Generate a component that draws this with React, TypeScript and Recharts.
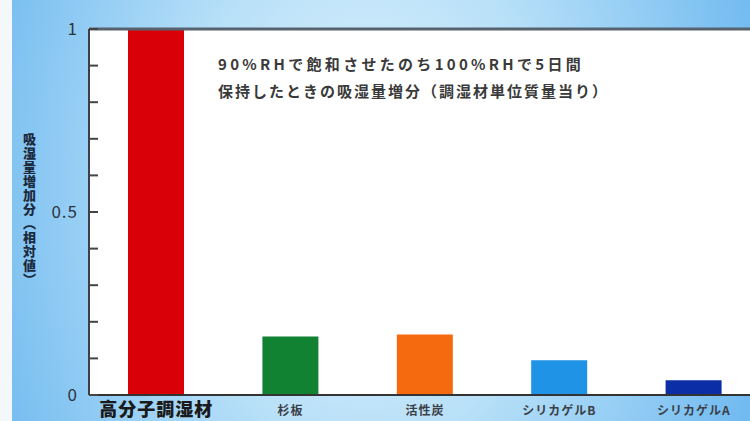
import { BarChart, Bar, XAxis, YAxis, CartesianGrid, ReferenceLine, Cell } from 'recharts';

const categories = ['高分子調湿材', '杉板', '活性炭', 'シリカゲルB', 'シリカゲルA'];
const values = [1.0, 0.16, 0.165, 0.095, 0.04];
const barColors = ['#d90008', '#118232', '#f5690f', '#1f93e6', '#0b2ea6'];
const yTicks = [0, 0.1, 0.2, 0.3, 0.4, 0.5, 0.6, 0.7, 0.8, 0.9, 1];
const yTickLabels: Record<string, string> = { '0': '0', '0.5': '0.5', '1': '1' };
const noteLines = ['90%RHで飽和させたのち100%RHで5日間', '保持したときの吸湿量増分（調湿材単位質量当り）'];
const yAxisTitle = '吸湿量増加分（相対値）';

const data = categories.map((name, i) => ({ name, value: values[i] }));

const FONT = '"Noto Sans CJK JP", "Noto Sans", sans-serif';

function YTick(props: any) {
  const { x, y, payload } = props;
  const label = yTickLabels[String(payload.value)];
  return (
    <g>
      <line x1={x} x2={x + 9} y1={y} y2={y} stroke="#444" strokeWidth={2} />
      {label && (
        <text x={x - 11} y={y} dy={6} textAnchor="end" fontSize={17} fill="#2c3440" fontFamily={FONT} letterSpacing={1}>
          {label}
        </text>
      )}
    </g>
  );
}

function XTick(props: any) {
  const { x, y, payload, index } = props;
  const main = index === 0;
  return (
    <text
      x={x}
      y={y}
      dy={main ? 21 : 20}
      textAnchor="middle"
      fontSize={main ? 18 : 12}
      fontWeight={main ? 900 : 700}
      fill={main ? '#1a1a1a' : '#3a3f48'}
      fontFamily={FONT}
      letterSpacing={main ? 1 : 1}
    >
      {payload.value}
    </text>
  );
}

export default function App() {
  return (
    <div
      style={{
        position: 'absolute',
        left: 0,
        top: 0,
        width: 750,
        height: 421,
        overflow: 'hidden',
        background: '#f4f8fb',
      }}
    >
      <div
        style={{
          position: 'absolute',
          left: 12,
          top: 0,
          width: 738,
          height: 421,
          background:
            'radial-gradient(ellipse 55% 140% at 48% 45%, #e0f3fd 0%, #b8e0f8 45%, #72bbf0 100%)',
        }}
      />
      <div style={{ position: 'absolute', left: 0, top: 0 }}>
        <BarChart width={770} height={421} data={data} margin={{ top: 29, right: 9, left: 0, bottom: 0 }}>
          <CartesianGrid fill="#ffffff" horizontal={false} vertical={false} />
          <XAxis
            dataKey="name"
            height={26}
            tickSize={0}
            tickMargin={0}
            interval={0}
            tick={<XTick />}
            axisLine={{ stroke: '#333', strokeWidth: 2 }}
            tickLine={false}
          />
          <YAxis
            width={89}
            domain={[0, 1]}
            ticks={yTicks}
            interval={0}
            tickSize={0}
            tickMargin={0}
            tick={<YTick />}
            axisLine={{ stroke: '#3a3f48', strokeWidth: 2 }}
            tickLine={false}
          />
          <ReferenceLine y={1} stroke="#56636e" strokeWidth={3} />
          <Bar dataKey="value" barSize={56} isAnimationActive={false}>
            {data.map((_d, i) => (
              <Cell key={`c-${i}`} fill={barColors[i]} />
            ))}
          </Bar>
        </BarChart>
      </div>
      <div
        style={{
          position: 'absolute',
          left: 218,
          top: 50,
          fontFamily: FONT,
          fontSize: 15,
          fontWeight: 700,
          color: '#3a3a3a',
          lineHeight: '27px',
          whiteSpace: 'nowrap',
        }}
      >
        <div style={{ letterSpacing: 3.3 }}>{noteLines[0]}</div>
        <div style={{ letterSpacing: 2 }}>{noteLines[1]}</div>
      </div>
      <div
        style={{
          position: 'absolute',
          left: 21,
          top: 133,
          writingMode: 'vertical-rl',
          fontFamily: FONT,
          fontSize: 13,
          fontWeight: 900,
          color: '#1c2a3e',
          letterSpacing: 1,
          lineHeight: '16px',
        }}
      >
        {yAxisTitle}
      </div>
    </div>
  );
}
